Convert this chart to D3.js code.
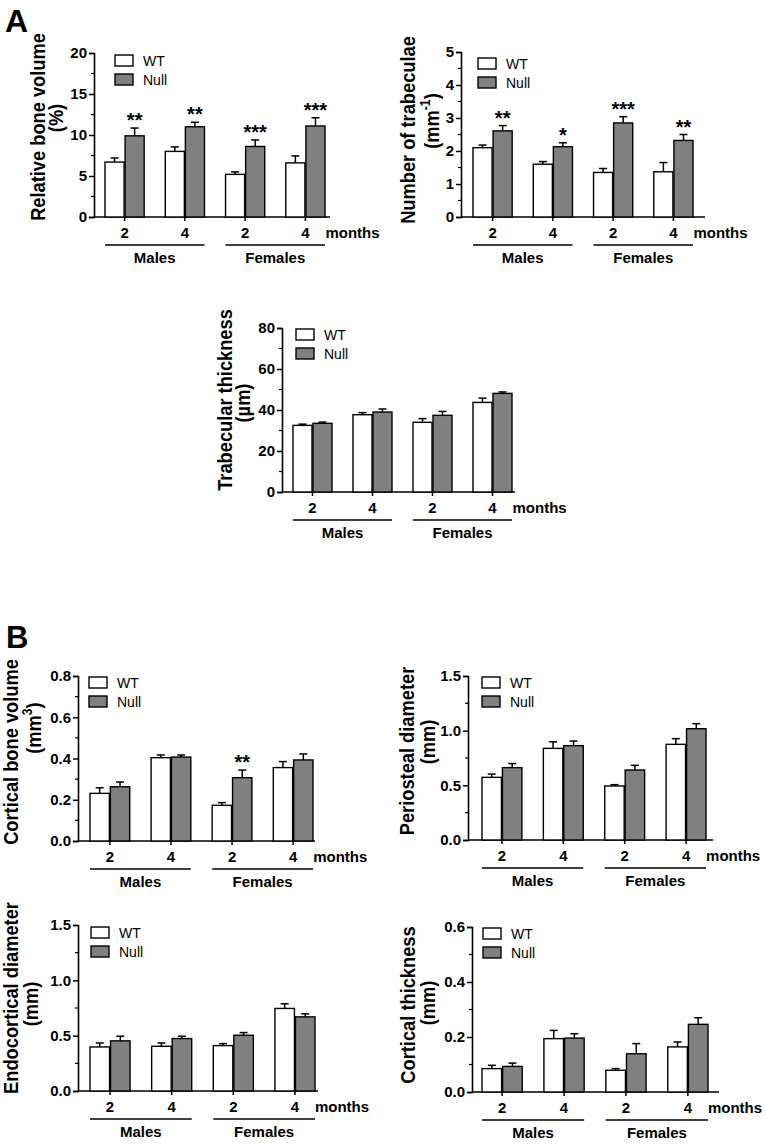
<!DOCTYPE html>
<html><head><meta charset="utf-8">
<script src="https://cdn.jsdelivr.net/npm/d3@7"></script>
<style>
html,body{margin:0;padding:0;background:#fff;}
svg{display:block;font-family:"Liberation Sans",Arial,sans-serif;}
</style></head>
<body>
<svg id="chart" width="765" height="1145"></svg>
<script>
// ---------- DATA ----------
const groups = ["M2","M4","F2","F4"];
const monthLabels = ["2","4","2","4"];
const sexLabels = ["Males","Females"];
const seriesNames = ["WT","Null"];
const unitLabel = "months";

// Relative bone volume (%)
const bvWT = [6.7, 8.0, 5.2, 6.6];
const bvWTErr = [0.5, 0.55, 0.3, 0.85];
const bvNull = [9.9, 11.0, 8.6, 11.1];
const bvNullErr = [0.95, 0.55, 0.8, 1.0];
const bvStars = ["**","**","***","***"];
const bvTicks = [0,5,10,15,20];

// Number of trabeculae (mm-1)
const tbnWT = [2.10, 1.60, 1.35, 1.37];
const tbnWTErr = [0.08, 0.08, 0.12, 0.28];
const tbnNull = [2.61, 2.13, 2.85, 2.32];
const tbnNullErr = [0.16, 0.12, 0.19, 0.18];
const tbnStars = ["**","*","***","**"];
const tbnTicks = [0,1,2,3,4,5];

// Trabecular thickness (µm)
const tbthWT = [32.5, 37.7, 34.0, 43.7];
const tbthWTErr = [0.6, 1.0, 1.8, 2.1];
const tbthNull = [33.5, 39.0, 37.4, 48.1];
const tbthNullErr = [0.6, 1.5, 1.9, 0.7];
const tbthStars = ["","","",""];
const tbthTicks = [0,20,40,60,80];

// Cortical bone volume (mm3)
const cbvWT = [0.231, 0.404, 0.173, 0.356];
const cbvWTErr = [0.027, 0.013, 0.013, 0.029];
const cbvNull = [0.263, 0.407, 0.307, 0.393];
const cbvNullErr = [0.023, 0.010, 0.037, 0.029];
const cbvStars = ["","","**",""];
const cbvTicks = [0,0.2,0.4,0.6,0.8];

// Periosteal diameter (mm)
const pdWT = [0.573, 0.838, 0.494, 0.875];
const pdWTErr = [0.03, 0.06, 0.012, 0.052];
const pdNull = [0.662, 0.863, 0.640, 1.018];
const pdNullErr = [0.037, 0.042, 0.043, 0.046];
const pdStars = ["","","",""];
const pdTicks = [0,0.5,1.0,1.5];

// Endocortical diameter (mm)
const edWT = [0.398, 0.404, 0.410, 0.746];
const edWTErr = [0.036, 0.030, 0.018, 0.042];
const edNull = [0.453, 0.474, 0.504, 0.670];
const edNullErr = [0.042, 0.021, 0.024, 0.027];
const edStars = ["","","",""];
const edTicks = [0,0.5,1.0,1.5];

// Cortical thickness (mm)
const ctWT = [0.085, 0.194, 0.079, 0.164];
const ctWTErr = [0.012, 0.030, 0.006, 0.018];
const ctNull = [0.093, 0.196, 0.139, 0.246];
const ctNullErr = [0.012, 0.016, 0.037, 0.024];
const ctStars = ["","","",""];
const ctTicks = [0,0.2,0.4,0.6];

// ---------- PANELS (layout) ----------
const panels = [
  {wt:bvWT, wtE:bvWTErr, nu:bvNull, nuE:bvNullErr, stars:bvStars, ticks:bvTicks, fmt:d3.format("d"),
   t1:"Relative bone volume", t2:["(%)"],
   L:{ax:94, top:53, y0:217, xEnd:330, bl:105, br:325, lx:21, ly:2, t1x:45, t1y:127, t2x:63, t2y:118}},
  {wt:tbnWT, wtE:tbnWTErr, nu:tbnNull, nuE:tbnNullErr, stars:tbnStars, ticks:tbnTicks, fmt:d3.format("d"),
   t1:"Number of trabeculae", t2:["(mm","-1",")"],
   L:{ax:461, top:52, y0:217, xEnd:705, bl:473, br:693, lx:17, ly:6, t1x:415, t1y:130, t2x:439, t2y:121}},
  {wt:tbthWT, wtE:tbthWTErr, nu:tbthNull, nuE:tbthNullErr, stars:tbthStars, ticks:tbthTicks, fmt:d3.format("d"),
   t1:"Trabecular thickness", t2:["(µm)"],
   L:{ax:282, top:328, y0:492, xEnd:515, bl:293, br:512, lx:14, ly:1, t1x:232, t1y:400, t2x:250, t2y:403}},
  {wt:cbvWT, wtE:cbvWTErr, nu:cbvNull, nuE:cbvNullErr, stars:cbvStars, ticks:cbvTicks, fmt:d3.format(".1f"),
   t1:"Cortical bone volume", t2:["(mm","3",")"],
   L:{ax:78, top:676, y0:841, xEnd:315, bl:90, br:313, lx:11, ly:1, t1x:18, t1y:752, t2x:41, t2y:728}},
  {wt:pdWT, wtE:pdWTErr, nu:pdNull, nuE:pdNullErr, stars:pdStars, ticks:pdTicks, fmt:d3.format(".1f"),
   t1:"Periosteal diameter", t2:["(mm)"],
   L:{ax:468, top:676, y0:840, xEnd:713, bl:482, br:706, lx:14, ly:1, t1x:414, t1y:751, t2x:435, t2y:742}},
  {wt:edWT, wtE:edWTErr, nu:edNull, nuE:edNullErr, stars:edStars, ticks:edTicks, fmt:d3.format(".1f"),
   t1:"Endocortical diameter", t2:["(mm)"],
   L:{ax:78, top:925, y0:1091, xEnd:318, bl:90, br:315, lx:13, ly:2, t1x:18, t1y:998, t2x:38, t2y:1004}},
  {wt:ctWT, wtE:ctWTErr, nu:ctNull, nuE:ctNullErr, stars:ctStars, ticks:ctTicks, fmt:d3.format(".1f"),
   t1:"Cortical thickness", t2:["(mm)"],
   L:{ax:472, top:927, y0:1092, xEnd:719, bl:482, br:708, lx:11, ly:1, t1x:415, t1y:1005, t2x:435, t2y:1003}}
];

const svg = d3.select("#chart");
const fills = {WT:"#ffffff", Null:"#808080"};

svg.append("text").attr("x",5).attr("y",32).attr("font-size",32).attr("font-weight","bold").text("A");
svg.append("text").attr("x",6).attr("y",648).attr("font-size",31).attr("font-weight","bold").text("B");

panels.forEach(p => {
  const L = p.L;
  const g = svg.append("g");
  const yMax = p.ticks[p.ticks.length-1];
  const y = d3.scaleLinear().domain([0, yMax]).range([L.y0, L.top]);
  const x = d3.scaleBand().domain(groups).range([L.bl, L.br]).paddingInner(0.35);
  const xs = d3.scaleBand().domain(seriesNames).range([0, x.bandwidth()]).paddingInner(0.05);

  // y axis
  const step = p.ticks[1] - p.ticks[0];
  const minor = d3.range(0, p.ticks.length - 1).map(i => p.ticks[i] + step/2);
  const yAxis = d3.axisLeft(y).tickValues(p.ticks).tickFormat(p.fmt).tickSize(5).tickPadding(2);
  const ya = g.append("g").attr("transform", `translate(${L.ax},0)`).call(yAxis);
  ya.select(".domain").attr("stroke","#000").attr("stroke-width",1.6);
  ya.selectAll(".tick line").attr("stroke","#000").attr("stroke-width",1.5);
  ya.selectAll(".tick text").attr("font-size",15).attr("font-weight","bold").attr("fill","#000")
    .attr("font-family","'Liberation Sans',Arial,sans-serif");
  g.append("g").selectAll("line").data(minor).join("line")
    .attr("x1", L.ax - 3).attr("x2", L.ax).attr("y1", d => y(d)).attr("y2", d => y(d))
    .attr("stroke","#000").attr("stroke-width",1.2);

  // x axis line
  g.append("line").attr("x1", L.ax).attr("x2", L.xEnd).attr("y1", L.y0).attr("y2", L.y0)
    .attr("stroke","#000").attr("stroke-width",1.6);
  g.append("g").selectAll("line").data(groups).join("line")
    .attr("x1", d => x(d) + x.bandwidth()/2).attr("x2", d => x(d) + x.bandwidth()/2)
    .attr("y1", L.y0).attr("y2", L.y0 + 4).attr("stroke","#000").attr("stroke-width",1.5);

  // bars
  const rows = [];
  groups.forEach((gr, i) => {
    rows.push({g:gr, s:"WT", v:p.wt[i], e:p.wtE[i], star:""});
    rows.push({g:gr, s:"Null", v:p.nu[i], e:p.nuE[i], star:p.stars[i]});
  });
  const bx = d => x(d.g) + xs(d.s);
  const cx = d => bx(d) + xs.bandwidth()/2;
  // error bars
  g.append("g").selectAll("line").data(rows).join("line")
    .attr("x1", cx).attr("x2", cx).attr("y1", d => y(d.v)).attr("y2", d => y(d.v + d.e))
    .attr("stroke","#000").attr("stroke-width",1.5);
  g.append("g").selectAll("line").data(rows).join("line")
    .attr("x1", d => cx(d) - 4).attr("x2", d => cx(d) + 4).attr("y1", d => y(d.v + d.e)).attr("y2", d => y(d.v + d.e))
    .attr("stroke","#000").attr("stroke-width",1.5);
  g.append("g").selectAll("rect").data(rows).join("rect")
    .attr("x", bx).attr("width", xs.bandwidth())
    .attr("y", d => y(d.v)).attr("height", d => L.y0 - y(d.v))
    .attr("fill", d => fills[d.s]).attr("stroke","#000").attr("stroke-width",1.4);
  // stars
  g.append("g").selectAll("text").data(rows.filter(d => d.star)).join("text")
    .attr("x", cx).attr("y", d => y(d.v + d.e) - 1)
    .attr("text-anchor","middle").attr("font-size",20).attr("font-weight","bold").text(d => d.star);

  // month labels
  g.append("g").selectAll("text").data(groups).join("text")
    .attr("x", d => x(d) + x.bandwidth()/2).attr("y", L.y0 + 21)
    .attr("text-anchor","middle").attr("font-size",15).attr("font-weight","bold")
    .text((d,i) => monthLabels[i]);
  g.append("text").attr("x", x(groups[3]) + x.bandwidth()/2 + 20).attr("y", L.y0 + 21)
    .attr("font-size",15).attr("font-weight","bold").text(unitLabel);

  // group lines & sex labels
  sexLabels.forEach((s, k) => {
    const a = x(groups[2*k]), b = x(groups[2*k+1]) + x.bandwidth();
    g.append("line").attr("x1", a).attr("x2", b).attr("y1", L.y0 + 28).attr("y2", L.y0 + 28)
      .attr("stroke","#000").attr("stroke-width",1.5);
    g.append("text").attr("x", (a+b)/2).attr("y", L.y0 + 46).attr("text-anchor","middle")
      .attr("font-size",15).attr("font-weight","bold").text(s);
  });

  // legend
  seriesNames.forEach((s, k) => {
    const lx = L.ax + L.lx, ly = L.top + L.ly + k*19;
    g.append("rect").attr("x", lx).attr("y", ly).attr("width",18).attr("height",11)
      .attr("fill", fills[s]).attr("stroke","#000").attr("stroke-width",1.4);
    g.append("text").attr("x", lx + 28).attr("y", ly + 11).attr("font-size",14).text(s);
  });

  // y titles
  const t1 = g.append("g").attr("transform", `translate(${L.t1x},${L.t1y}) rotate(-90) scale(0.87,1)`);
  t1.append("text").attr("text-anchor","middle").attr("font-size",21).attr("font-weight","bold").text(p.t1);
  const t2g = g.append("g").attr("transform", `translate(${L.t2x},${L.t2y}) rotate(-90) scale(0.87,1)`);
  const t2 = t2g.append("text").attr("text-anchor","middle").attr("font-size",21).attr("font-weight","bold");
  if (p.t2.length === 1) {
    t2.text(p.t2[0]);
  } else {
    t2.append("tspan").text(p.t2[0]);
    t2.append("tspan").attr("font-size",14).attr("dy",-9).text(p.t2[1]);
    t2.append("tspan").attr("dy",9).text(p.t2[2]);
  }
});
</script>
</body></html>
